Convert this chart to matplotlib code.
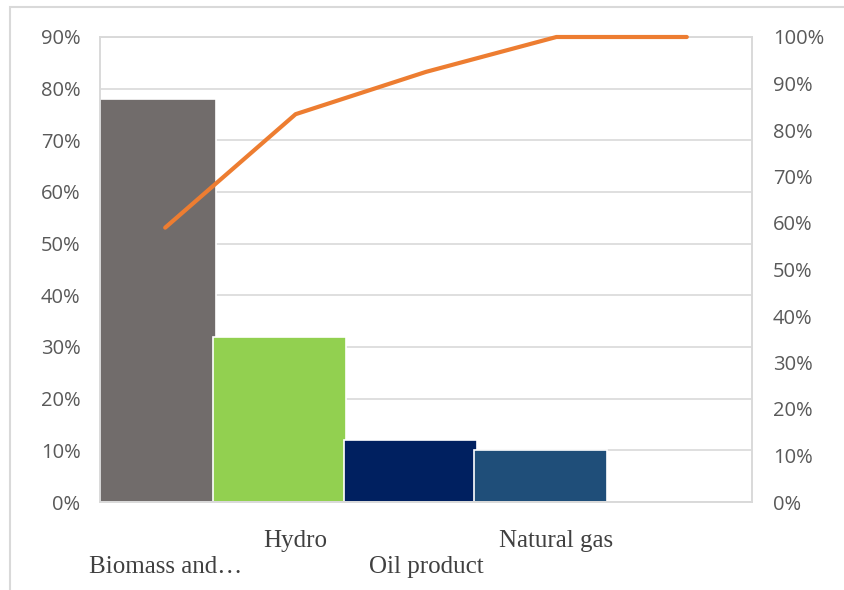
import numpy as np
import matplotlib.pyplot as plt
from matplotlib.patches import Rectangle
from matplotlib.ticker import PercentFormatter

# energy sources and their shares (left axis) and running total (right axis)
categories = ["Biomass and\u2026", "Hydro", "Oil product", "Natural gas", ""]
share = [0.78, 0.32, 0.12, 0.10, 0.0]
cumulative = [0.59, 0.834, 0.925, 1.0, 1.0]
bar_colors = ["#716c6b", "#92d050", "#002060", "#1f4e79", "#ffffff"]

tick_color = "#595959"
grid_color = "#d9d9d9"

fig = plt.figure(figsize=(8.44, 5.90), dpi=100)
ax = fig.add_axes([100 / 844, 1 - 502 / 590, 652 / 844, 465 / 590])
ax2 = ax.twinx()

x = np.arange(len(categories))
ax.bar(x - 0.12, share, width=1.02, color=bar_colors, edgecolor="white",
       linewidth=1.2, zorder=2)
ax2.plot(x, cumulative, color="#ed7d31", linewidth=3, solid_capstyle="round",
         clip_on=False, zorder=3)

ax.set_xlim(-0.5, len(categories) - 0.5)
ax.set_ylim(0, 0.9)
ax2.set_ylim(0, 1.0)
ax.set_yticks(np.arange(0, 0.91, 0.1))
ax2.set_yticks(np.arange(0, 1.01, 0.1))
ax.yaxis.set_major_formatter(PercentFormatter(1.0, decimals=0))
ax2.yaxis.set_major_formatter(PercentFormatter(1.0, decimals=0))

ax.yaxis.grid(True, color=grid_color, linewidth=1.2, zorder=0)
ax.set_axisbelow(True)

for a in (ax, ax2):
    for s in a.spines.values():
        s.set_color(grid_color)
        s.set_linewidth(1.2)
    a.tick_params(length=0, labelcolor=tick_color, labelsize=14.5)
    for lbl in a.get_yticklabels():
        lbl.set_family(["Open Sans", "DejaVu Sans"])
ax.tick_params(axis="y", pad=14)
ax2.tick_params(axis="y", pad=15)

# staggered category labels: every other one sits on a second row
staggered = [("\n" + c) if i % 2 == 0 else c for i, c in enumerate(categories)]
ax.set_xticks(x)
ax.set_xticklabels(staggered, family="Liberation Serif", fontsize=18,
                   color="#404040", linespacing=1.25)
ax.tick_params(axis="x", pad=20)

# outer chart frame
fig.patches.append(Rectangle((10 / 844, -0.1), 1.0, 1 - 7 / 590 + 0.1,
                             transform=fig.transFigure, fill=False,
                             edgecolor=grid_color, linewidth=1.5))

fig.savefig("out.png", dpi=100)
